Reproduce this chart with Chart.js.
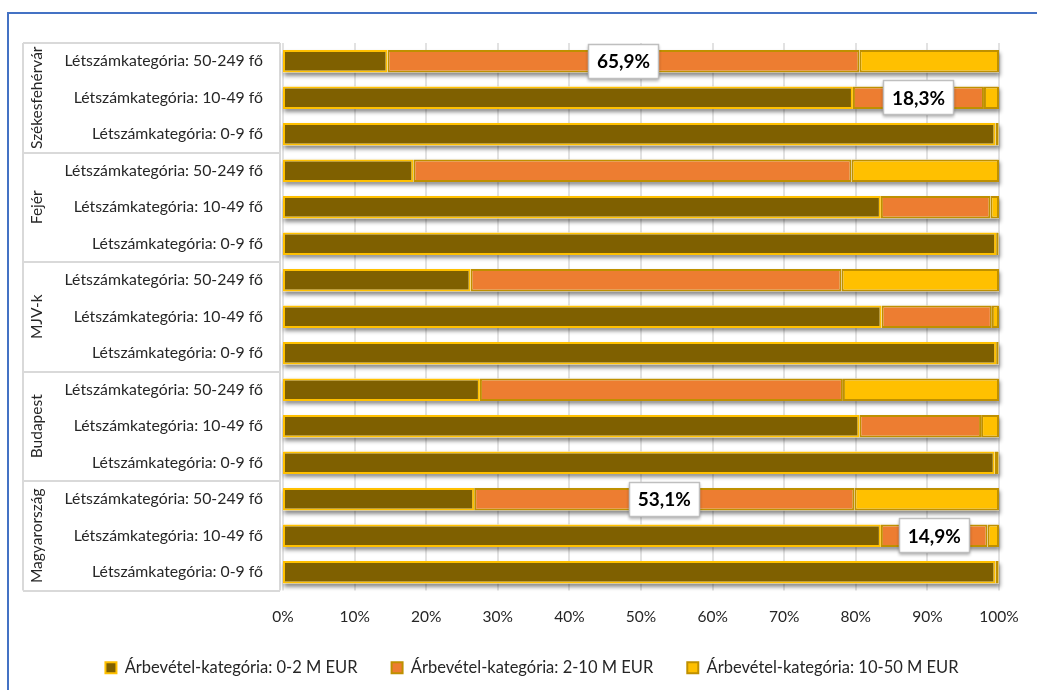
<!DOCTYPE html>
<html>
<head>
<meta charset="utf-8">
<script src="https://cdn.jsdelivr.net/npm/chart.js@4/dist/chart.umd.min.js"></script>
<style>
  html, body { margin: 0; padding: 0; background: #fff; }
  #wrap { width: 1037px; height: 690px; }
</style>
</head>
<body>
<div id="wrap"><canvas id="revChart" width="1037" height="690"></canvas></div>
<script>
// Groups (top to bottom) and headcount categories inside each group
const groups = ['Székesfehérvár', 'Fejér', 'MJV-k', 'Budapest', 'Magyarország'];
const sizeCats = ['Létszámkategória: 50-249 fő', 'Létszámkategória: 10-49 fő', 'Létszámkategória: 0-9 fő'];

// Share of firms (%) per revenue category, one value per row (group x size)
const rev0to2 = [
    14.6, 79.6, 99.5,
    18.2, 83.5, 99.6,
    26.2, 83.6, 99.6,
    27.5, 80.5, 99.4,
    26.7, 83.5, 99.5
];
const rev2to10 = [
    65.9, 18.3, 0.4,
    61.2, 15.3, 0.3,
    51.8, 15.4, 0.3,
    50.7, 17.0, 0.5,
    53.1, 14.9, 0.4
];
const rev10to50 = [
    19.5, 2.1, 0.1,
    20.6, 1.2, 0.1,
    22.0, 1.0, 0.1,
    21.8, 2.5, 0.1,
    20.2, 1.6, 0.1
];
const seriesNames = [
    'Árbevétel-kategória: 0-2 M EUR',
    'Árbevétel-kategória: 2-10 M EUR',
    'Árbevétel-kategória: 10-50 M EUR'
];
// rows of the 2-10 M EUR series that carry a value label
const labelledRows = [0, 1, 12, 13];

const xTicks = [0, 10, 20, 30, 40, 50, 60, 70, 80, 90, 100];

const FONT = 'Lato, "Open Sans", sans-serif';
const TEXT = '#262626';

// one label per bar row
const rowLabels = [];
groups.forEach(() => sizeCats.forEach(s => rowLabels.push(s)));

// vertical extent of the bar rows, taken from the category scale
function rowBounds(y) {
    const pitch = y.getPixelForValue(1) - y.getPixelForValue(0);
    return {
        pitch: pitch,
        top: y.getPixelForValue(0) - pitch / 2,
        bottom: y.getPixelForValue(rowLabels.length - 1) + pitch / 2
    };
}

// blue frame, the category table on the left, group names and x gridlines
const frameAndGroups = {
    id: 'frameAndGroups',
    beforeDraw(chart) {
        const ctx = chart.ctx;
        const x = chart.scales.x;
        const y = chart.scales.y;
        const rb = rowBounds(y);
        ctx.save();

        // blue frame (left + top)
        ctx.strokeStyle = '#4472C4';
        ctx.lineWidth = 2;
        ctx.beginPath();
        ctx.moveTo(8, 690);
        ctx.lineTo(8, 13);
        ctx.lineTo(1037, 13);
        ctx.stroke();

        // vertical gridlines
        ctx.strokeStyle = '#D9D9D9';
        ctx.lineWidth = 1.5;
        ctx.beginPath();
        xTicks.forEach(v => {
            const px = Math.round(x.getPixelForValue(v));
            ctx.moveTo(px, rb.top);
            ctx.lineTo(px, rb.bottom);
        });
        ctx.stroke();

        // table around the category labels
        const left = 23, right = 280;
        ctx.lineWidth = 2;
        ctx.beginPath();
        for (let g = 0; g <= groups.length; g++) {
            const yy = Math.round(rb.top + g * sizeCats.length * rb.pitch);
            ctx.moveTo(left, yy);
            ctx.lineTo(right, yy);
        }
        [left, right].forEach(xx => {
            ctx.moveTo(xx, rb.top);
            ctx.lineTo(xx, rb.bottom);
        });
        ctx.stroke();

        // rotated group names
        ctx.fillStyle = TEXT;
        ctx.font = '15.5px ' + FONT;
        ctx.textAlign = 'center';
        ctx.textBaseline = 'middle';
        groups.forEach((name, g) => {
            const first = y.getPixelForValue(g * sizeCats.length);
            const last = y.getPixelForValue(g * sizeCats.length + sizeCats.length - 1);
            ctx.save();
            ctx.translate(37, (first + last) / 2);
            ctx.rotate(-Math.PI / 2);
            ctx.fillText(name, 0, 0);
            ctx.restore();
        });
        ctx.restore();
    }
};

// soft shadow under each full bar row
const barShadow = {
    id: 'barShadow',
    beforeDatasetsDraw(chart) {
        const ctx = chart.ctx;
        const first = chart.getDatasetMeta(0).data;
        const lastMeta = chart.getDatasetMeta(2).data;
        ctx.save();
        ctx.shadowColor = 'rgba(0,0,0,0.45)';
        ctx.shadowBlur = 4;
        ctx.shadowOffsetY = 3;
        ctx.shadowOffsetX = 1;
        ctx.fillStyle = '#fff';
        first.forEach((bar, i) => {
            const end = lastMeta[i].x;
            ctx.fillRect(bar.base, bar.y - bar.height / 2, end - bar.base, bar.height);
        });
        ctx.restore();
    }
};

// boxed value labels on selected 2-10 M EUR segments
const valueBoxes = {
    id: 'valueBoxes',
    afterDatasetsDraw(chart) {
        const ctx = chart.ctx;
        const meta = chart.getDatasetMeta(1);
        ctx.save();
        ctx.font = 'bold 19px ' + FONT;
        ctx.textAlign = 'center';
        ctx.textBaseline = 'middle';
        labelledRows.forEach(i => {
            const bar = meta.data[i];
            const cx = (bar.x + bar.base) / 2;
            const cy = bar.y;
            const text = rev2to10[i].toFixed(1).replace('.', ',') + '%';
            const w = Math.round(ctx.measureText(text).width + 18);
            const h = 35;
            const x0 = Math.round(cx - w / 2), y0 = Math.round(cy - h / 2);
            ctx.save();
            ctx.shadowColor = 'rgba(0,0,0,0.3)';
            ctx.shadowBlur = 3;
            ctx.shadowOffsetY = 2;
            ctx.fillStyle = '#fff';
            ctx.fillRect(x0, y0, w, h);
            ctx.restore();
            ctx.strokeStyle = '#BFBFBF';
            ctx.lineWidth = 1.5;
            ctx.strokeRect(x0 + 0.5, y0 + 0.5, w - 1, h - 1);
            ctx.fillStyle = '#000';
            ctx.fillText(text, cx, cy + 1);
        });
        ctx.restore();
    }
};

const ctx = document.getElementById('revChart');
new Chart(ctx, {
    type: 'bar',
    data: {
        labels: rowLabels,
        datasets: [
            {
                label: seriesNames[0],
                data: rev0to2,
                backgroundColor: '#7F6000',
                borderColor: '#FFC000',
                borderWidth: 2,
                borderSkipped: false
            },
            {
                label: seriesNames[1],
                data: rev2to10,
                backgroundColor: '#ED7D31',
                borderColor: '#BF9000',
                borderWidth: 2,
                borderSkipped: false
            },
            {
                label: seriesNames[2],
                data: rev10to50,
                backgroundColor: '#FFC000',
                borderColor: '#BF9000',
                borderWidth: 2,
                borderSkipped: false
            }
        ]
    },
    options: {
        indexAxis: 'y',
        responsive: false,
        animation: false,
        categoryPercentage: 1,
        barPercentage: 0.62,
        layout: {
            padding: { top: 43, left: 65, right: 38, bottom: 4 }
        },
        plugins: {
            legend: {
                position: 'bottom',
                labels: {
                    boxWidth: 11,
                    boxHeight: 11,
                    padding: 34,
                    color: TEXT,
                    font: { family: FONT, size: 16.5 }
                }
            },
            tooltip: { enabled: false }
        },
        scales: {
            x: {
                stacked: true,
                min: 0,
                max: 100,
                afterBuildTicks: scale => {
                    scale.ticks = xTicks.map(v => ({ value: v }));
                },
                afterFit: scale => { scale.height = 35; },
                border: { display: false },
                grid: { display: false, drawTicks: false, tickLength: 0 },
                ticks: {
                    padding: 17,
                    color: TEXT,
                    font: { family: FONT, size: 15.5 },
                    callback: v => v + '%'
                }
            },
            y: {
                stacked: true,
                afterFit: scale => { scale.width = 218; },
                border: { display: false },
                grid: { display: false, drawTicks: false, tickLength: 0 },
                ticks: {
                    padding: 20,
                    autoSkip: false,
                    color: TEXT,
                    font: { family: FONT, size: 15.8 }
                }
            }
        }
    },
    plugins: [frameAndGroups, barShadow, valueBoxes]
});
</script>
</body>
</html>
